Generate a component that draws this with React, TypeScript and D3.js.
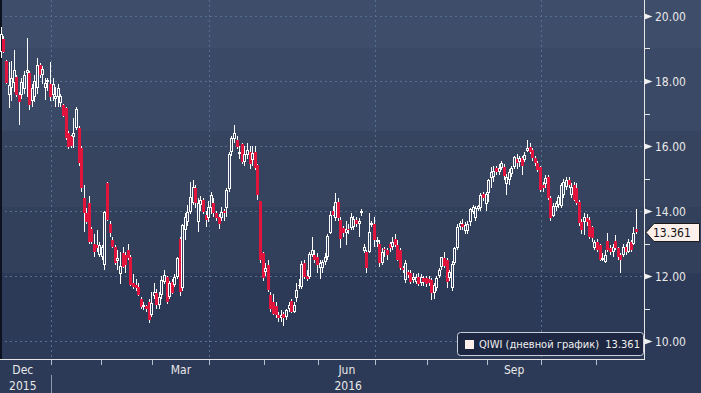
import React from 'react';
import * as d3 from 'd3';

// [open, high, low, close] per trading day
type Bar = [number, number, number, number];

const dec15: Bar[] = [
  [18.9, 19.66, 18.7, 19.45], [19.3, 19.4, 18.85, 18.9], [18.6, 18.65, 17.9, 17.95], [17.57, 18.58, 17.17, 17.88],
  [17.8, 18.6, 17.4, 18.1], [17.94, 18.95, 17.66, 18.34], [18.12, 18.2, 17.5, 17.57], [17.57, 17.65, 16.65, 17.35],
  [17.57, 18.1, 17.45, 17.97], [17.75, 18.3, 17.6, 18.2], [18.25, 19.32, 17.5, 18.35], [18.25, 18.3, 17.1, 17.26],
  [17.38, 17.9, 17.2, 17.78], [17.5, 18.2, 17.35, 18.0], [17.78, 18.7, 17.6, 18.49], [18.49, 18.55, 18.1, 18.18],
  [18.18, 18.45, 17.9, 18.37], [17.78, 18.09, 17.42, 17.94], [17.97, 18.1, 17.7, 18.03], [17.9, 18.58, 17.4, 17.5],
];
const jan16: Bar[] = [
  [17.57, 18.1, 17.4, 17.91], [17.45, 17.82, 17.2, 17.55], [17.5, 17.9, 17.2, 17.78], [17.32, 17.6, 17.2, 17.54],
  [17.26, 17.3, 16.9, 16.92], [17.17, 17.2, 16.2, 16.25], [16.4, 16.45, 15.9, 15.97], [16.3, 16.35, 15.95, 16.0],
  [16.28, 16.86, 15.94, 16.4], [16.55, 17.2, 16.5, 17.14], [16.55, 16.6, 15.4, 15.48], [15.94, 16.0, 14.6, 14.7],
  [14.4, 14.8, 13.35, 13.94], [13.94, 14.1, 13.6, 13.66], [14.25, 14.45, 13.0, 13.05], [13.45, 13.5, 13.0, 13.05],
  [13.0, 13.3, 12.6, 12.74], [12.95, 13.4, 12.75, 12.85], [12.65, 13.05, 12.6, 12.95],
];
const feb16: Bar[] = [
  [12.6, 12.95, 12.5, 12.9], [12.35, 14.0, 12.2, 13.97], [14.86, 14.9, 13.7, 13.72], [13.6, 13.7, 13.2, 13.33],
  [13.1, 13.2, 12.85, 12.9], [12.9, 12.95, 12.35, 12.4], [12.45, 12.8, 12.2, 12.55], [12.05, 12.75, 11.75, 12.3],
  [12.7, 12.9, 12.25, 12.28], [12.65, 12.75, 12.1, 12.35], [12.8, 13.0, 12.5, 12.55], [12.6, 12.65, 11.7, 11.72],
  [11.8, 12.05, 11.6, 11.65], [11.72, 11.9, 11.55, 11.62], [11.66, 11.8, 11.4, 11.42], [11.29, 11.35, 11.0, 11.05],
  [11.05, 11.2, 10.95, 11.12], [11.08, 11.1, 10.9, 10.98], [11.2, 11.3, 10.55, 10.65], [10.8, 11.5, 10.75, 11.17],
];
const mar16: Bar[] = [
  [11.4, 11.8, 11.3, 11.5], [11.48, 11.6, 11.0, 11.1], [11.1, 11.5, 11.0, 11.35], [11.42, 12.0, 11.3, 11.88],
  [11.82, 12.2, 11.75, 12.03], [11.97, 12.0, 11.15, 11.2], [11.35, 11.85, 11.3, 11.78], [11.82, 11.9, 11.45, 11.48],
  [11.72, 12.05, 11.65, 11.97], [11.97, 12.6, 11.9, 12.55], [13.14, 13.2, 11.4, 11.5], [11.63, 13.6, 11.55, 13.57],
  [13.4, 13.95, 13.1, 13.8], [13.66, 14.2, 13.55, 13.97], [13.97, 14.9, 13.9, 14.43], [14.25, 14.95, 14.2, 14.74],
  [14.7, 14.8, 14.1, 14.24], [13.66, 14.4, 13.35, 14.25], [14.18, 14.45, 14.0, 14.34], [14.34, 14.4, 13.9, 13.97],
  [13.88, 14.0, 13.5, 13.72], [13.78, 14.3, 13.65, 14.12],
];
const apr16: Bar[] = [
  [14.09, 14.6, 13.9, 14.49], [14.25, 14.4, 13.8, 13.94], [13.94, 14.0, 13.7, 13.78], [13.8, 13.9, 13.45, 13.6],
  [13.78, 14.12, 13.7, 13.97], [14.0, 14.05, 13.7, 13.95], [14.09, 14.7, 13.8, 14.65], [14.68, 15.8, 14.6, 15.75],
  [15.82, 16.3, 15.7, 16.25], [16.22, 16.65, 16.1, 16.4], [16.18, 16.3, 15.9, 15.97], [15.75, 16.0, 15.6, 15.82],
  [16.06, 16.1, 15.45, 15.5], [15.5, 16.0, 15.4, 15.75], [15.72, 16.1, 15.6, 15.88], [15.82, 16.0, 15.3, 15.45],
  [15.57, 16.0, 15.4, 15.78], [15.8, 16.0, 15.25, 15.32], [15.42, 15.45, 14.35, 14.49], [14.3, 14.3, 12.4, 12.49],
  [12.7, 12.75, 11.85, 11.94],
];
const may16: Bar[] = [
  [12.12, 12.4, 12.0, 12.25], [12.34, 12.5, 11.5, 11.57], [11.42, 11.5, 10.9, 10.98], [11.2, 11.45, 10.8, 10.83],
  [11.08, 11.2, 10.7, 10.8], [10.8, 10.9, 10.6, 10.72], [10.72, 10.95, 10.6, 10.8], [10.83, 10.9, 10.45, 10.72],
  [10.75, 11.0, 10.65, 10.95], [11.0, 11.2, 10.9, 11.1], [11.23, 11.3, 10.85, 10.89], [10.89, 11.2, 10.85, 11.1],
  [11.32, 11.8, 11.2, 11.57], [11.68, 11.9, 11.6, 11.72], [11.66, 12.45, 11.6, 12.37], [12.4, 12.5, 11.9, 11.97],
  [12.0, 12.2, 11.85, 11.9], [11.97, 12.75, 11.9, 12.68], [12.65, 13.2, 12.6, 12.8], [12.65, 12.8, 12.4, 12.5],
  [12.58, 12.7, 12.1, 12.34],
];
const jun16: Bar[] = [
  [12.25, 12.5, 11.9, 12.4], [12.25, 12.5, 12.1, 12.43], [12.43, 12.7, 12.35, 12.58], [12.58, 13.3, 12.5, 13.23],
  [13.32, 14.0, 13.3, 13.88], [14.0, 14.15, 13.85, 13.88], [13.78, 14.55, 13.7, 14.28], [14.28, 14.4, 13.7, 13.78],
  [13.72, 13.8, 12.86, 13.14], [13.48, 13.55, 13.2, 13.32], [13.32, 13.7, 12.95, 13.45], [13.45, 13.6, 13.3, 13.4],
  [13.48, 13.95, 13.4, 13.8], [13.5, 13.85, 13.4, 13.75], [13.72, 13.8, 13.5, 13.6], [13.6, 13.78, 13.2, 13.7],
  [13.94, 14.05, 13.85, 14.0], [12.77, 13.0, 12.7, 12.9], [12.74, 12.8, 12.09, 12.25], [12.74, 13.94, 12.7, 13.35],
  [13.57, 13.7, 13.5, 13.63], [13.6, 13.8, 12.9, 13.11],
];
const jul16: Bar[] = [
  [13.05, 13.2, 12.9, 13.11], [13.0, 13.1, 12.28, 12.4], [12.4, 12.85, 12.35, 12.75], [12.83, 12.9, 12.6, 12.8],
  [12.8, 12.85, 12.5, 12.65], [13.0, 13.05, 12.75, 12.86], [12.9, 13.2, 12.8, 13.05], [13.14, 13.3, 12.9, 12.95],
  [12.95, 13.1, 12.45, 12.49], [12.8, 12.85, 12.2, 12.25], [12.25, 12.3, 12.1, 12.18], [11.88, 12.5, 11.8, 12.4],
  [12.12, 12.2, 11.95, 12.03], [12.09, 12.2, 11.75, 11.82], [11.88, 12.1, 11.8, 11.97], [11.82, 12.05, 11.75, 11.97],
  [11.97, 12.1, 11.7, 11.75], [11.78, 12.05, 11.7, 11.97], [11.94, 12.0, 11.7, 11.82], [11.94, 12.0, 11.65, 11.75],
];
const aug16: Bar[] = [
  [11.9, 12.0, 11.7, 11.78], [11.88, 11.95, 11.26, 11.48], [11.48, 11.8, 11.3, 11.72], [11.63, 12.0, 11.55, 11.94],
  [12.0, 12.25, 11.95, 12.18], [12.28, 12.6, 12.2, 12.58], [12.55, 12.75, 12.25, 12.31], [12.49, 12.55, 11.63, 11.82],
  [11.94, 12.2, 11.85, 12.12], [11.63, 12.45, 11.55, 12.37], [12.4, 12.9, 12.35, 12.86], [12.86, 13.6, 12.8, 13.5],
  [13.5, 13.7, 13.4, 13.63], [13.6, 13.75, 13.4, 13.5], [13.38, 13.65, 13.3, 13.57], [13.38, 13.7, 13.3, 13.6],
  [13.66, 14.1, 13.55, 14.06], [13.97, 14.2, 13.9, 14.12], [13.78, 14.15, 13.7, 14.09], [14.06, 14.2, 14.0, 14.15],
  [14.09, 14.55, 14.0, 14.49], [14.52, 14.6, 14.3, 14.4], [14.22, 14.6, 14.0, 14.52],
];
const sep16: Bar[] = [
  [14.55, 15.0, 14.28, 14.95], [15.02, 15.35, 14.7, 15.2], [15.05, 15.4, 14.9, 15.22], [15.32, 15.4, 15.1, 15.2],
  [15.2, 15.45, 15.1, 15.32], [15.32, 15.55, 15.25, 15.48], [15.35, 15.45, 14.95, 15.08], [14.83, 15.15, 14.5, 15.05],
  [14.95, 15.3, 14.8, 15.2], [15.15, 15.4, 15.05, 15.32], [15.35, 15.7, 15.3, 15.66], [15.6, 15.75, 15.3, 15.48],
  [15.5, 15.7, 15.35, 15.62], [15.63, 15.7, 15.1, 15.38], [15.57, 15.8, 15.5, 15.72], [15.85, 16.18, 15.8, 15.94],
  [15.97, 16.1, 15.75, 15.82], [15.88, 15.95, 15.55, 15.63], [15.63, 15.7, 15.4, 15.48], [15.48, 15.55, 15.2, 15.26],
  [15.35, 15.4, 14.6, 14.65],
];
const oct16: Bar[] = [
  [14.8, 14.9, 14.6, 14.7], [14.83, 15.1, 14.7, 15.02], [15.05, 15.1, 14.35, 14.4], [14.4, 14.45, 13.7, 13.78],
  [13.85, 14.25, 13.8, 14.15], [14.12, 14.3, 14.0, 14.25], [14.18, 14.5, 14.1, 14.43], [14.15, 14.85, 14.1, 14.8],
  [14.49, 15.0, 14.4, 14.89], [14.74, 15.05, 14.65, 14.95], [14.95, 15.05, 14.7, 14.8], [14.49, 14.85, 14.4, 14.74],
  [14.8, 14.9, 14.3, 14.34], [14.7, 14.85, 14.2, 14.25], [14.28, 14.35, 13.55, 13.63], [13.66, 13.75, 13.3, 13.42],
  [13.66, 13.95, 13.26, 13.82], [13.78, 13.9, 13.55, 13.66], [13.72, 13.8, 13.15, 13.2], [13.5, 13.55, 13.05, 13.17],
  [12.86, 13.1, 12.8, 13.05],
];
const nov16: Bar[] = [
  [13.05, 13.15, 12.75, 12.8], [12.96, 13.0, 12.45, 12.49], [12.49, 12.7, 12.45, 12.55], [12.43, 12.8, 12.4, 12.65],
  [13.08, 13.32, 12.75, 12.8], [12.86, 12.95, 12.65, 12.74], [12.74, 13.0, 12.6, 12.9], [13.08, 13.26, 12.8, 12.86],
  [12.86, 12.9, 12.5, 12.58], [12.65, 12.7, 12.09, 12.49], [12.65, 13.0, 12.6, 12.9], [12.9, 13.0, 12.65, 12.74],
  [12.74, 13.15, 12.7, 13.05], [13.05, 13.1, 12.75, 12.8], [12.98, 13.5, 12.95, 13.32], [13.45, 14.06, 13.3, 13.361],
];

const holidays = ['2015-12-25', '2016-01-01', '2016-01-18', '2016-02-15', '2016-03-25', '2016-05-30', '2016-07-04', '2016-09-05', '2016-11-24'];
const yTicks = [10, 12, 14, 16, 18, 20];
const yMinorTicks = [11, 13, 15, 17, 19];
const monthLabels = [
  { month: '2015-12', label: 'Dec' },
  { month: '2016-03', label: 'Mar' },
  { month: '2016-06', label: 'Jun' },
  { month: '2016-09', label: 'Sep' },
];
const yearLabels = [
  { from: '2015-12', to: '2015-12', label: '2015' },
  { from: '2016-04', to: '2016-08', label: '2016' },
];
const gridMonths = ['2016-01', '2016-04', '2016-07', '2016-10'];
const seriesName = 'QIWI (дневной график)';
const lastPrice = 13.361;

const W = 701;
const H = 393;
const FONT = '"DejaVu Sans Condensed", "DejaVu Sans", sans-serif';
const RED = '#e0143c';
const GRID = '#55718d';

function tradingDays(): string[] {
  const out: string[] = [];
  const d = new Date(Date.UTC(2015, 11, 1));
  const end = Date.UTC(2016, 10, 22);
  while (d.getTime() <= end) {
    const wd = d.getUTCDay();
    const iso = d.toISOString().slice(0, 10);
    if (wd !== 0 && wd !== 6 && !holidays.includes(iso)) out.push(iso);
    d.setUTCDate(d.getUTCDate() + 1);
  }
  return out;
}

const App: React.FC = () => {
  const days = tradingDays();
  const bars = [dec15, jan16, feb16, mar16, apr16, may16, jun16, jul16, aug16, sep16, oct16, nov16].flat();
  const offset = days.length - bars.length;

  // trading-day axis: Jan 4 sits at the first gridline
  const x = d3.scaleLinear().domain([22, 211]).range([51.3, 541.3]);
  const y = d3.scaleLinear().domain([10, 20]).range([341, 16]);

  const plotRight = 644.5;
  const axisY = 359.5;

  // first trading day index of every month
  const monthStart = new Map<string, number>();
  days.forEach((d, i) => {
    const m = d.slice(0, 7);
    if (!monthStart.has(m)) monthStart.set(m, i);
  });
  const months = Array.from(monthStart.keys());
  const monthEdge = (m: string) => x(monthStart.get(m) as number);
  const monthEnd = (m: string) => {
    const k = months.indexOf(m);
    return k + 1 < months.length ? monthEdge(months[k + 1]) : x(days.length);
  };
  // Dec 2015 starts two sessions before the data
  const decStart = x(0);

  const bands = [
    { y0: 0, y1: 48, c: '#3e4d69' },
    { y0: 48, y1: 131, c: '#3a4965' },
    { y0: 131, y1: 207, c: '#36445f' },
    { y0: 207, y1: 273, c: '#32405b' },
    { y0: 273, y1: H, c: '#2d3a57' },
  ];

  return (
    <svg width={W} height={H} style={{ position: 'fixed', left: 0, top: 0, display: 'block' }} fontFamily={FONT}>
      {bands.map((b, i) => (
        <rect key={i} x={0} y={b.y0} width={W} height={b.y1 - b.y0} fill={b.c} />
      ))}

      {/* grid */}
      <g stroke={GRID} strokeDasharray="2,3" strokeWidth={1} shapeRendering="crispEdges">
        {yTicks.map((t) => (
          <line key={t} x1={0} x2={plotRight} y1={Math.round(y(t)) + 0.5} y2={Math.round(y(t)) + 0.5} />
        ))}
        {gridMonths.map((m) => (
          <line key={m} x1={Math.round(monthEdge(m)) + 0.5} x2={Math.round(monthEdge(m)) + 0.5} y1={0} y2={axisY} />
        ))}
      </g>

      <rect x={0} y={0} width={2} height={axisY} fill="#0d1220" />

      {/* candles */}
      <g shapeRendering="crispEdges">
        {bars.map(([o, h, l, c], i) => {
          const cx = x(offset + i + 0.5);
          const L = Math.round(cx) - 1;
          const T = Math.round(y(Math.max(o, c)));
          const B = Math.round(y(Math.min(o, c)));
          const hi = Math.round(y(h));
          const lo = Math.round(y(l));
          const up = c >= o;
          if (!up) {
            return (
              <g key={i}>
                <line x1={L + 1.5} x2={L + 1.5} y1={hi} y2={lo} stroke="#ffffff" />
                <rect x={L} y={T} width={3} height={Math.max(1, B - T)} fill={RED} />
              </g>
            );
          }
          return (
            <g key={i}>
              <line x1={L + 1.5} x2={L + 1.5} y1={hi} y2={T} stroke="#ffffff" />
              <line x1={L + 1.5} x2={L + 1.5} y1={B} y2={lo} stroke="#ffffff" />
              {B - T >= 2 ? (
                <rect x={L + 0.5} y={T + 0.5} width={2} height={B - T - 1} fill="none" stroke="#ffffff" />
              ) : (
                <rect x={L} y={T} width={3} height={Math.max(1, B - T)} fill="#ffffff" />
              )}
            </g>
          );
        })}
      </g>

      {/* axes */}
      <g stroke="#e6e6e6" shapeRendering="crispEdges">
        <line x1={plotRight} x2={plotRight} y1={0} y2={axisY} />
        <line x1={0} x2={plotRight} y1={axisY} y2={axisY} />
        {months.slice(1).map((m) => (
          <line key={m} x1={Math.round(monthEdge(m)) + 0.5} x2={Math.round(monthEdge(m)) + 0.5} y1={axisY} y2={axisY + 5} stroke="#b8bfcc" />
        ))}
        {yMinorTicks.map((t) => (
          <line key={t} x1={plotRight} x2={plotRight + 5} y1={Math.round(y(t)) + 0.5} y2={Math.round(y(t)) + 0.5} />
        ))}
        <line x1={Math.round(monthEdge('2016-01')) + 0.5} x2={Math.round(monthEdge('2016-01')) + 0.5} y1={375} y2={H} stroke="#8e98aa" />
      </g>

      {yTicks.map((t) => {
        const ty = Math.round(y(t)) + 0.5;
        return (
          <g key={t}>
            <polygon points={`${plotRight},${ty - 3} ${plotRight + 8},${ty} ${plotRight},${ty + 3}`} fill="#f0f0f0" />
            <text x={655} y={ty} dy="0.36em" fontSize={12} fill="#e8e8e8">
              {t.toFixed(2)}
            </text>
          </g>
        );
      })}

      {monthLabels.map((m) => {
        const start = m.month === '2015-12' ? decStart : monthEdge(m.month);
        const cxm = (start + monthEnd(m.month)) / 2;
        return (
          <text key={m.month} x={cxm} y={374} textAnchor="middle" fontSize={12} fill="#e8e8e8">
            {m.label}
          </text>
        );
      })}
      {yearLabels.map((yl) => {
        const start = yl.from === '2015-12' ? decStart : monthEdge(yl.from);
        const cxy = (start + monthEnd(yl.to)) / 2;
        return (
          <text key={yl.label} x={cxy} y={390} textAnchor="middle" fontSize={12} fill="#e8e8e8">
            {yl.label}
          </text>
        );
      })}

      {/* last price tag */}
      {(() => {
        const py = Math.round(y(lastPrice)) + 0.5;
        return (
          <g>
            <polygon
              points={`${plotRight + 1.5},${py} ${plotRight + 9.5},${py - 9} ${W - 1.5},${py - 9} ${W - 1.5},${py + 9} ${plotRight + 9.5},${py + 9}`}
              fill="#fdf0eb"
              stroke="#1b1b1b"
            />
            <text x={653} y={py} dy="0.36em" fontSize={12} fill="#111">
              {lastPrice.toFixed(3)}
            </text>
          </g>
        );
      })()}

      {/* legend */}
      <g>
        <rect x={457.5} y={332.5} width={186} height={23} rx={3} fill="#1d2741" stroke="#c9ced8" />
        <rect x={465} y={340} width={9} height={9} fill="#fcefe9" />
        <text x={479} y={344.5} dy="0.36em" fontSize={11} fill="#f0f0f0" xmlSpace="preserve">
          {`${seriesName}  ${lastPrice.toFixed(3)}`}
        </text>
      </g>
    </svg>
  );
};

export default App;
